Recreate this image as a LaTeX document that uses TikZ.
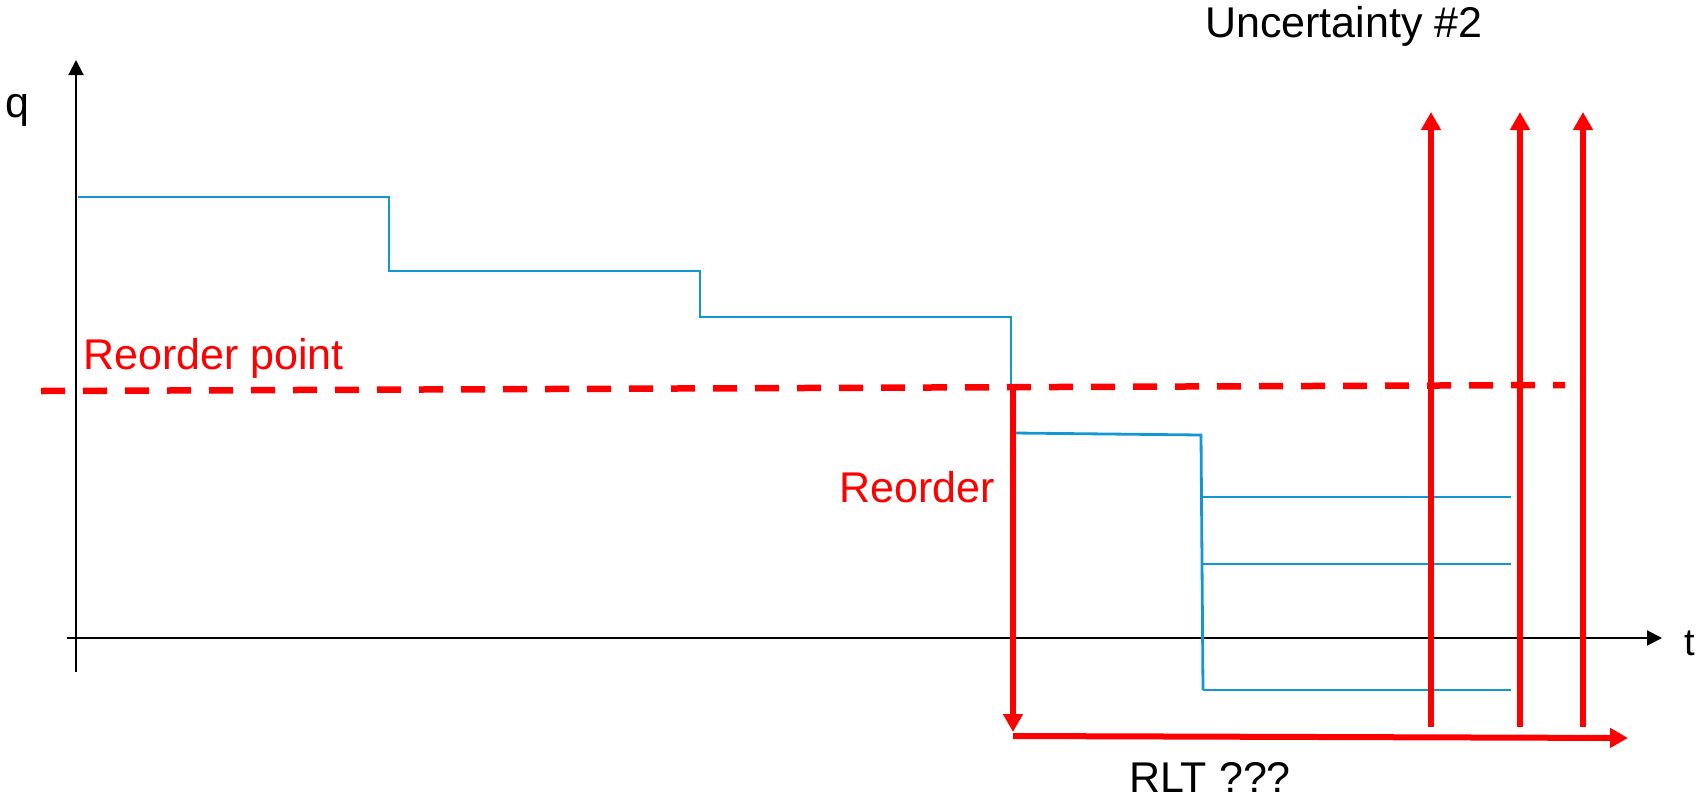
\documentclass[tikz,border=0pt]{standalone}
\usepackage{fontspec}
\setmainfont{Liberation Sans}
\usetikzlibrary{arrows.meta}
\definecolor{stepblue}{RGB}{18,150,212}
\definecolor{pred}{RGB}{255,0,0}
\tikzset{
  axis/.style={line width=2pt, black, -{Triangle[width=15pt,length=15pt]}},
  stepline/.style={line width=2.8pt, stepblue},
  redarrow/.style={line width=6pt, pred, -{Triangle[width=19pt,length=18pt]}},
  ropline/.style={line width=6.5pt, pred, dash pattern=on 24pt off 18pt},
  lbl/.style={inner sep=0pt, anchor=base west, font=\fontsize{43}{51}\selectfont},
}
\begin{document}
\begin{tikzpicture}[x=1pt,y=-1pt]
\useasboundingbox (0,0) rectangle (1702,798);
% axes
\coordinate (yb) at (76,672);
\coordinate (yt) at (76,60);
\coordinate (xl) at (67,638);
\coordinate (xr) at (1662,638);
\draw[axis] (yb) -- (yt);
\draw[axis] (xl) -- (xr);
\node[lbl] (q) at (5,117) {q};
\node[lbl, font=\fontsize{38}{46}\selectfont] (t) at (1684,655) {t};
% stock steps
\coordinate (s0) at (78,197);
\coordinate (s1) at (389,197);
\coordinate (s2) at (389,271);
\coordinate (s3) at (700,271);
\coordinate (s4) at (700,317);
\coordinate (s5) at (1011,317);
\coordinate (s6) at (1011,388);
\draw[stepline] (s0) -- (s1) -- (s2) -- (s3) -- (s4) -- (s5) -- (s6);
\coordinate (r0) at (1014,433);
\coordinate (r1) at (1201,435);
\coordinate (r2) at (1203,690);
\draw[stepline] (r0) -- (r1) -- (r2);
\coordinate (h1a) at (1202,497); \coordinate (h1b) at (1511,497);
\coordinate (h2a) at (1202,564); \coordinate (h2b) at (1511,564);
\coordinate (h3a) at (1203,690); \coordinate (h3b) at (1511,690);
\draw[stepline] (h1a) -- (h1b);
\draw[stepline] (h2a) -- (h2b);
\draw[stepline] (h3a) -- (h3b);
% reorder point
\coordinate (rpl) at (41,391);
\coordinate (rpr) at (1565,385);
\draw[ropline] (rpl) -- (rpr);
\node[lbl, text=pred] (rp) at (83,369) {Reorder point};
% reorder and lead time
\coordinate (ro0) at (1013,388);
\coordinate (ro1) at (1013,732);
\draw[redarrow] (ro0) -- (ro1);
\node[lbl, text=pred] (ro) at (839,502) {Reorder};
\coordinate (l0) at (1013,736);
\coordinate (l1) at (1628,738);
\draw[redarrow] (l0) -- (l1);
\node[lbl] (rlt) at (1129,792) {RLT ???};
% uncertainty arrows
\foreach \n/\xx in {a/1431,b/1520,c/1583}{
  \coordinate (u\n0) at (\xx,727);
  \coordinate (u\n1) at (\xx,112);
  \draw[redarrow] (u\n0) -- (u\n1);
}
\node[lbl] (unc) at (1205,37) {Uncertainty \#2};
\end{tikzpicture}
\end{document}
